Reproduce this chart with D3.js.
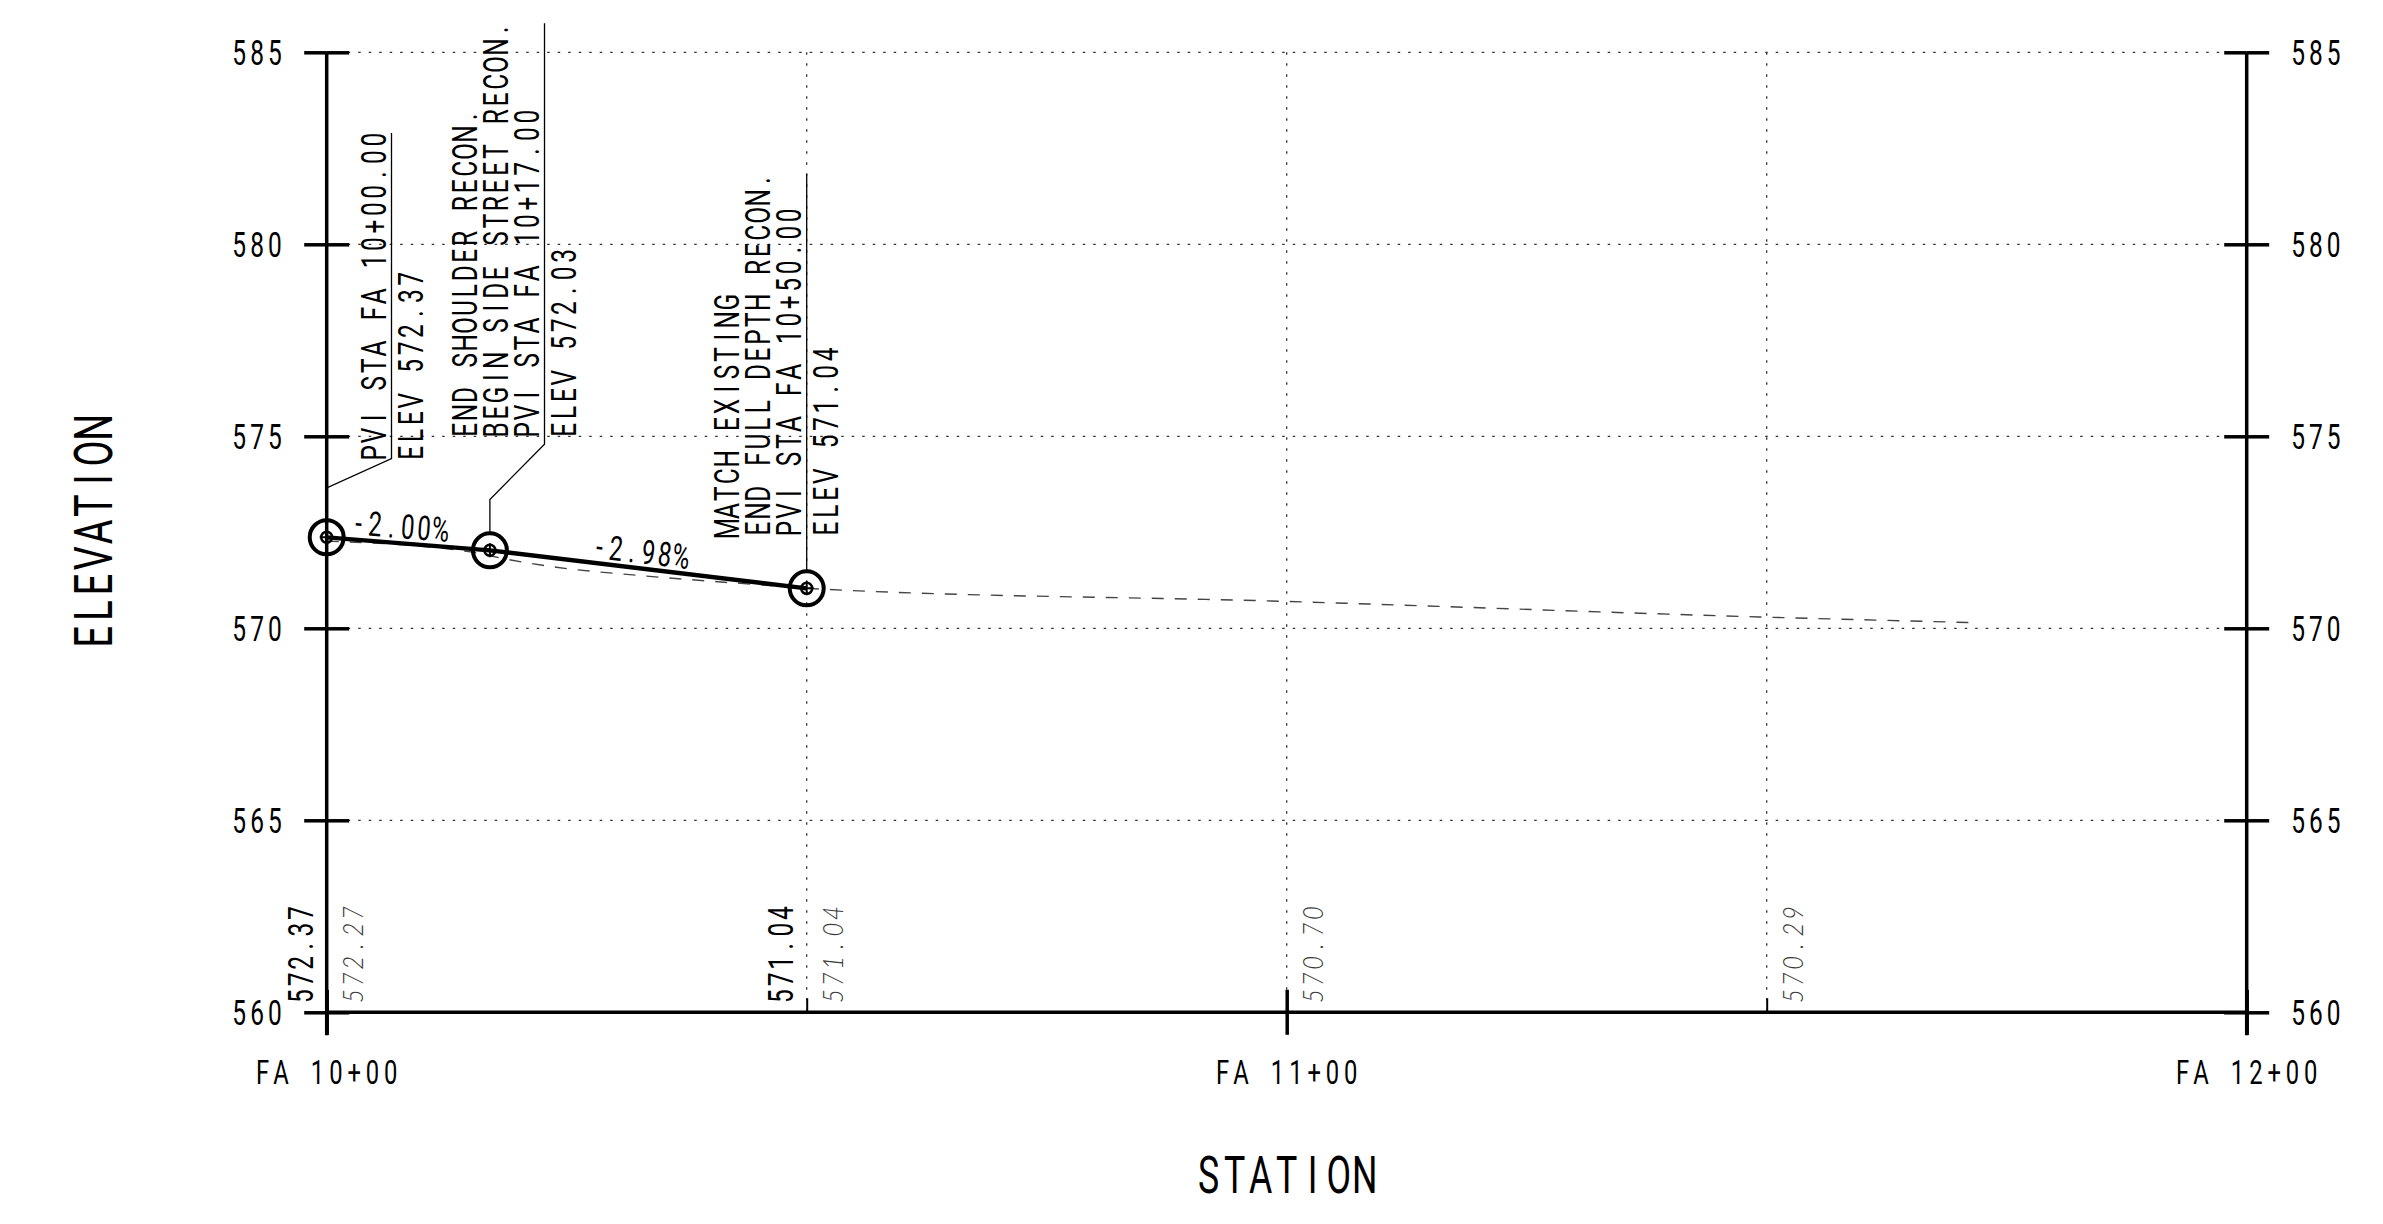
<!DOCTYPE html>
<html><head><meta charset="utf-8">
<script src="https://cdn.jsdelivr.net/npm/d3@7"></script>
<style>
html,body{margin:0;padding:0;background:#fff;}
svg{display:block;}
</style></head><body>
<svg id="chart" width="2383" height="1224"></svg>
<script>
// ---------- data ----------
const stationDomain = [1000, 1200];
const elevDomain = [560, 585];
const elevTicks = [560, 565, 570, 575, 580, 585];
const stationTicks = [1000, 1100, 1200];
const stationTickLabels = ["FA 10+00", "FA 11+00", "FA 12+00"];
const minorStations = [1050, 1150];
const gridStations = [1050, 1100, 1150];
const pviStations = [1000, 1017, 1050];
const pviElevs = [572.37, 572.03, 571.04];
const gradeLabels = ["-2.00%", "-2.98%"];
const existingStations = [1000, 1015, 1018.7, 1023.9, 1031.9, 1039.8, 1045.8, 1050, 1100, 1150, 1171.2];
const existingElevs = [572.27, 571.99, 571.80, 571.59, 571.39, 571.23, 571.12, 571.04, 570.70, 570.29, 570.15];
const profileLabelStations = [1000, 1050];
const existingLabelStations = [1000, 1050, 1100, 1150];
const noteStations = [1000, 1017, 1050];
const noteLinesAbove = [
  ["PVI STA FA 10+00.00"],
  ["END SHOULDER RECON.", "BEGIN SIDE STREET RECON.", "PVI STA FA 10+17.00"],
  ["MATCH EXISTING", "END FULL DEPTH RECON.", "PVI STA FA 10+50.00"]
];
const noteLinesBelow = [["ELEV 572.37"], ["ELEV 572.03"], ["ELEV 571.04"]];
const xTitle = "STATION";
const yTitle = "ELEVATION";

// ---------- layout ----------
const FONT = 'Roboto,"DejaVu Sans",sans-serif';
const ITFONT = 'Lato,Roboto,sans-serif';
const SX = 0.7;            // horizontal squeeze to mimic the narrow CAD font
const FW = 400;
const AX = 3.5;
const svg = d3.select("#chart");
const x = d3.scaleLinear().domain(stationDomain).range([326.7, 2246.7]);
const y = d3.scaleLinear().domain(elevDomain).range([1012.3, 52.3]);
const x0 = x(stationDomain[0]), x1 = x(stationDomain[1]);
const yTop = y(elevDomain[1]), yBot = y(elevDomain[0]);

// monospaced narrow text: each character centred in a cell of width adv (px)
function mtext(px, py, rot, str, size, adv, anchor, opts) {
  opts = opts || {};
  const sx = opts.sx || SX;
  const n = str.length, total = n * adv;
  const off = anchor === "middle" ? -total / 2 : anchor === "end" ? -total : 0;
  const xs = d3.range(n).map(i => ((off + (i + 0.5) * adv) / sx).toFixed(2)).join(" ");
  const t = svg.append("text")
    .attr("transform", `translate(${px},${py}) rotate(${rot}) scale(${sx},1)`)
    .attr("x", xs)
    .attr("font-family", opts.family || FONT).attr("font-size", size)
    .attr("font-weight", opts.weight || FW)
    .attr("fill", opts.fill || "#000")
    .attr("text-anchor", "middle")
    .text(str);
  if (opts.italic) t.attr("font-style", "italic");
  return t;
}

// grid
svg.append("g").selectAll("line").data(elevTicks.filter(d => d !== elevDomain[0])).join("line")
  .attr("x1", x0).attr("x2", x1).attr("y1", d => y(d)).attr("y2", d => y(d))
  .attr("stroke", "#333").attr("stroke-width", 1.3).attr("stroke-dasharray", "2.5,8");
svg.append("g").selectAll("line").data(gridStations).join("line")
  .attr("x1", d => x(d)).attr("x2", d => x(d)).attr("y1", yTop).attr("y2", yBot)
  .attr("stroke", "#333").attr("stroke-width", 1.3).attr("stroke-dasharray", "2.5,8.5");

// existing ground
const egLine = d3.line()
  .x((d, i) => x(existingStations[i])).y(d => y(d)).curve(d3.curveMonotoneX);
svg.append("path").datum(existingElevs).attr("d", egLine)
  .attr("fill", "none").attr("stroke", "#444").attr("stroke-width", 1.4)
  .attr("stroke-dasharray", "12,11");

// axes helpers
function styleAxis(g) {
  g.select(".domain").remove();
  g.selectAll(".tick line").attr("stroke", "#000").attr("stroke-width", AX);
  g.selectAll(".tick text").remove();
  return g;
}
styleAxis(svg.append("g").attr("transform", `translate(${x0},0)`)
  .call(d3.axisLeft(y).tickValues(elevTicks).tickSize(22.5).tickSizeOuter(0)));
styleAxis(svg.append("g").attr("transform", `translate(${x0},0)`)
  .call(d3.axisRight(y).tickValues(elevTicks).tickSize(22.5).tickSizeOuter(0)));
styleAxis(svg.append("g").attr("transform", `translate(${x1},0)`)
  .call(d3.axisRight(y).tickValues(elevTicks).tickSize(22.5).tickSizeOuter(0)));
styleAxis(svg.append("g").attr("transform", `translate(${x1},0)`)
  .call(d3.axisLeft(y).tickValues(elevTicks).tickSize(22.5).tickSizeOuter(0)));
const fmt = d3.format("d");
elevTicks.forEach(v => {
  mtext(x0 - 43, y(v) + 12.5, 0, fmt(v), 35, 17.8, "end");
  mtext(x1 + 42.5, y(v) + 12.5, 0, fmt(v), 35, 17.8, "start");
});
[x0, x1].forEach(xx => svg.append("line").attr("x1", xx).attr("x2", xx).attr("y1", yTop).attr("y2", yBot + 23)
  .attr("stroke", "#000").attr("stroke-width", AX));
styleAxis(svg.append("g").attr("transform", `translate(0,${yBot})`)
  .call(d3.axisBottom(x).tickValues(stationTicks).tickSize(22.5).tickSizeOuter(0)));
styleAxis(svg.append("g").attr("transform", `translate(0,${yBot})`)
  .call(d3.axisTop(x).tickValues(stationTicks).tickSize(22.5).tickSizeOuter(0)));
const gm = styleAxis(svg.append("g").attr("transform", `translate(0,${yBot})`)
  .call(d3.axisTop(x).tickValues(minorStations).tickSize(14).tickSizeOuter(0)));
gm.selectAll(".tick line").attr("stroke-width", 2);
svg.append("line").attr("x1", x0).attr("x2", x1).attr("y1", yBot).attr("y2", yBot)
  .attr("stroke", "#000").attr("stroke-width", AX);
stationTicks.forEach((s, i) => mtext(x(s), 1084, 0, stationTickLabels[i], 34, 18.3, "middle"));

// proposed grade line
const pgLine = d3.line().x((d, i) => x(pviStations[i])).y(d => y(d));
svg.append("path").datum(pviElevs).attr("d", pgLine)
  .attr("fill", "none").attr("stroke", "#000").attr("stroke-width", 4.3);

// grade labels
gradeLabels.forEach((lab, i) => {
  const ax = x(pviStations[i]), ay = y(pviElevs[i]);
  const bx = x(pviStations[i + 1]), by = y(pviElevs[i + 1]);
  const len = Math.hypot(bx - ax, by - ay);
  const ux = (bx - ax) / len, uy = (by - ay) / len;
  const nx = uy, ny = -ux;
  const mx = (ax + bx) / 2 - 10 * ux + 5 * nx, my = (ay + by) / 2 - 10 * uy + 5 * ny;
  const ang = Math.atan2(by - ay, bx - ax) * 180 / Math.PI;
  mtext(mx, my, ang, lab, 34, 16.4, "middle");
});

// PVI markers
const pviG = svg.append("g").selectAll("g").data(pviElevs).join("g")
  .attr("transform", (d, i) => `translate(${x(pviStations[i])},${y(d)})`);
pviG.append("circle").attr("r", 17).attr("fill", "none").attr("stroke", "#000").attr("stroke-width", 4);
pviG.append("circle").attr("r", 5.5).attr("fill", "none").attr("stroke", "#000").attr("stroke-width", 2.5);
pviG.append("path").attr("d", "M-7,0H7M0,-7V7").attr("stroke", "#000").attr("stroke-width", 2);

// notes
const noteLayout = [
  { dx: 64.8, textUp: 78, kinkUp: 78.8, footUp: 49.3 },
  { dx: 54.6, textUp: 114, kinkUp: 106.2, footUp: 50.9 },
  { dx: 0, textUp: 53.4 }
];
const ADV = 17.4, LSP = 30.7;
const tl = s => (s.length - 1) * ADV + 13;
noteStations.forEach((st, k) => {
  const pi = pviStations.indexOf(st);
  const cx = x(st), cy = y(pviElevs[pi]);
  const L = noteLayout[k];
  const lx = cx + L.dx;
  const tb = cy - L.textUp;
  const all = noteLinesAbove[k].concat(noteLinesBelow[k]);
  const top = tb - d3.max(all, tl);
  let d;
  if (L.dx === 0) d = `M${cx},${cy - 17}V${top}`;
  else d = `M${cx},${cy - 17}V${cy - L.footUp}L${lx},${cy - L.kinkUp}V${top}`;
  svg.append("path").attr("d", d).attr("fill", "none").attr("stroke", "#000").attr("stroke-width", 1.3);
  const na = noteLinesAbove[k].length;
  const st0 = tb + (ADV - 13) / 2;
  noteLinesAbove[k].forEach((s, j) => {
    mtext(lx - 6 - (na - 1 - j) * LSP, st0, -90, s, 35, ADV, "start");
  });
  noteLinesBelow[k].forEach((s, j) => {
    mtext(lx + 31 + j * LSP, st0, -90, s, 35, ADV, "start");
  });
});

// bottom elevation labels
profileLabelStations.forEach(st => {
  const e = pviElevs[pviStations.indexOf(st)];
  mtext(x(st) - 14, yBot - 8, -90, e.toFixed(2), 35, 16.6, "start");
});
existingLabelStations.forEach(st => {
  const e = existingElevs[existingStations.indexOf(st)];
  mtext(x(st) + 36, yBot - 8, -90, e.toFixed(2), 28, 16.6, "start",
    { family: ITFONT, italic: true, weight: 300, fill: "#3a3a3a", sx: 0.85 });
});

// titles
mtext((x0 + x1) / 2, 1192.7, 0, xTitle, 51, 26, "middle");
mtext(111.7, 532, -90, yTitle, 54, 26.2, "middle");
</script>
</body></html>
